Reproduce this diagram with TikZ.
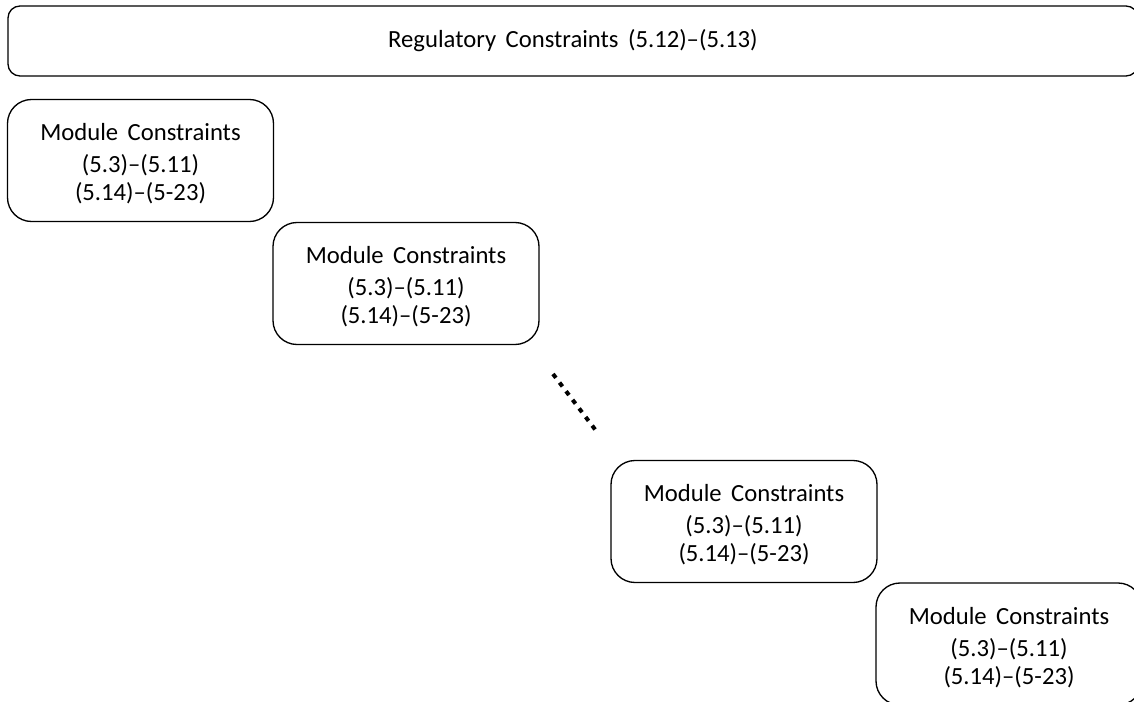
\documentclass[tikz,border=0pt]{standalone}
\usepackage{fontspec}
\setmainfont{Carlito}[WordSpace=1.7]
\newcommand{\topstrut}{\rule{0pt}{18pt}}
\begin{document}
\begin{tikzpicture}[x=0.75pt,y=-0.75pt,
  modbox/.style={draw=black,line width=1pt,rounded corners=18pt,minimum width=199.5pt,minimum height=91.5pt,inner sep=0pt,align=center,font=\fontsize{18.5}{21}\selectfont},
  topbox/.style={draw=black,line width=1pt,rounded corners=9pt,minimum width=847.5pt,minimum height=52.5pt,inner sep=0pt,align=center,font=\fontsize{18.5}{21}\selectfont},
  dots/.style={line width=3pt,dash pattern=on 3.6pt off 4.5pt,line cap=butt}]
\clip (0,0) rectangle (1134,702);
\useasboundingbox (0,0) rectangle (1134,702);
\node[topbox] (reg) at (573,41) {Regulatory Constraints (5.12)--(5.13)};
\node[modbox] (m1) at (140.5,160.5) {\topstrut Module Constraints\\[3pt](5.3)--(5.11)\\(5.14)--(5-23)};
\node[modbox] (m2) at (406,283.5) {\topstrut Module Constraints\\[3pt](5.3)--(5.11)\\(5.14)--(5-23)};
\node[modbox] (m3) at (744,521.5) {\topstrut Module Constraints\\[3pt](5.3)--(5.11)\\(5.14)--(5-23)};
\node[modbox] (m4) at (1009,644) {\topstrut Module Constraints\\[3pt](5.3)--(5.11)\\(5.14)--(5-23)};
\coordinate (d1) at (553,374);
\coordinate (d2) at (597,432);
\draw[dots] (d1) -- (d2);
\end{tikzpicture}
\end{document}
